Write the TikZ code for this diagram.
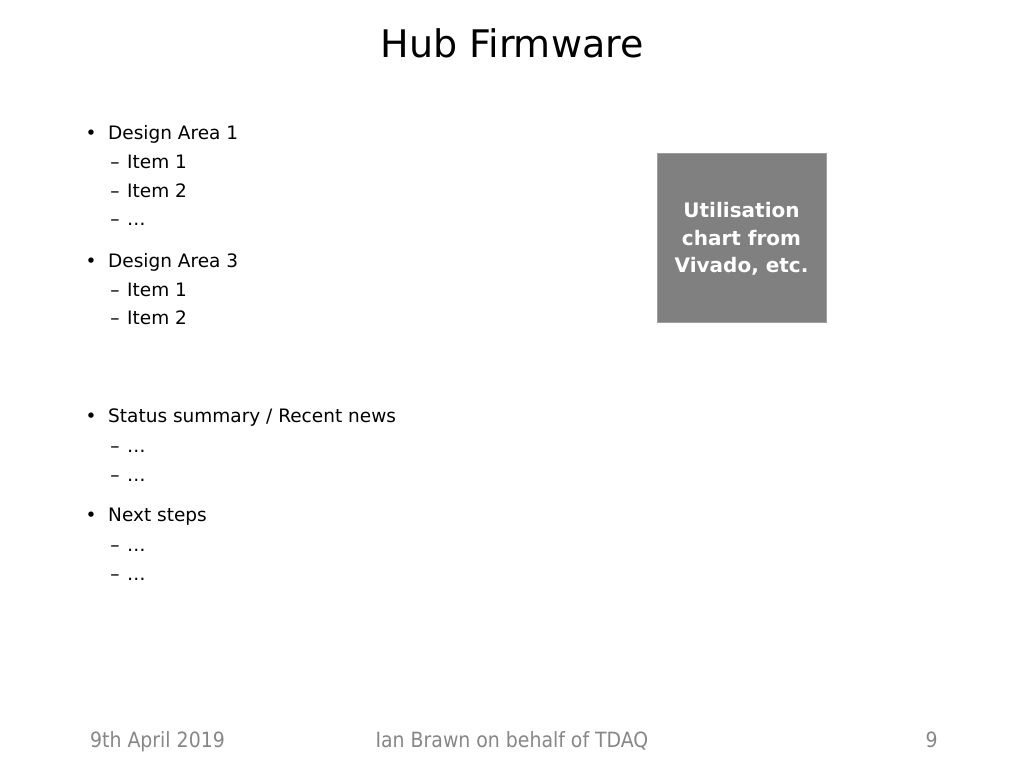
\documentclass[tikz,border=0pt]{standalone}
\usepackage{fontspec}
\setmainfont{DejaVu Sans}
\newfontfamily\footfont{DejaVu Sans Condensed}
\begin{document}
\begin{tikzpicture}[x=1pt,y=-1pt,
  txt/.style={anchor=base west,inner sep=0pt,font=\fontsize{18.5}{22}\selectfont},
  bul/.style={anchor=base,inner sep=0pt,font=\fontsize{18.5}{22}\selectfont},
  foot/.style={anchor=base,inner sep=0pt,text=black!47,font=\footfont\fontsize{21}{24}\selectfont}]
\useasboundingbox[fill=white] (0,0) rectangle (1024,768);
\node[anchor=base,inner sep=0pt,font=\fontsize{38}{44}\selectfont] (title) at (512,57) {Hub Firmware};
% Design Area 1
\node[bul] (b1) at (91,139) {•};
\node[txt] (t1) at (108,139) {Design Area 1};
\node[bul] (d11) at (115,168) {–};
\node[txt] (t11) at (127,168) {Item 1};
\node[bul] (d12) at (115,197) {–};
\node[txt] (t12) at (127,197) {Item 2};
\node[bul] (d13) at (115,225) {–};
\node[txt] (t13) at (127,225) {…};
% Design Area 3
\node[bul] (b2) at (91,267) {•};
\node[txt] (t2) at (108,267) {Design Area 3};
\node[bul] (d21) at (115,296) {–};
\node[txt] (t21) at (127,296) {Item 1};
\node[bul] (d22) at (115,324) {–};
\node[txt] (t22) at (127,324) {Item 2};
% Status
\node[bul] (b3) at (91,422) {•};
\node[txt] (t3) at (108,422) {Status summary / Recent news};
\node[bul] (d31) at (115,452) {–};
\node[txt] (t31) at (127,452) {…};
\node[bul] (d32) at (115,481) {–};
\node[txt] (t32) at (127,481) {…};
% Next steps
\node[bul] (b4) at (91,521) {•};
\node[txt] (t4) at (108,521) {Next steps};
\node[bul] (d41) at (115,551) {–};
\node[txt] (t41) at (127,551) {…};
\node[bul] (d42) at (115,580) {–};
\node[txt] (t42) at (127,580) {…};
% box
\draw[fill=black!50,draw=black!38,line width=1pt] (657,153) rectangle (826,322);
\node[align=center,text=white,inner sep=0pt,font=\bfseries\fontsize{20}{27.5}\selectfont] (box) at (741.5,239) {Utilisation\\chart from\\Vivado, etc.};
% footer
\node[foot] (date) at (157.5,747) {9th April 2019};
\node[foot] (author) at (512,747) {Ian Brawn on behalf of TDAQ};
\node[foot] (page) at (931.5,747) {9};
\end{tikzpicture}
\end{document}
